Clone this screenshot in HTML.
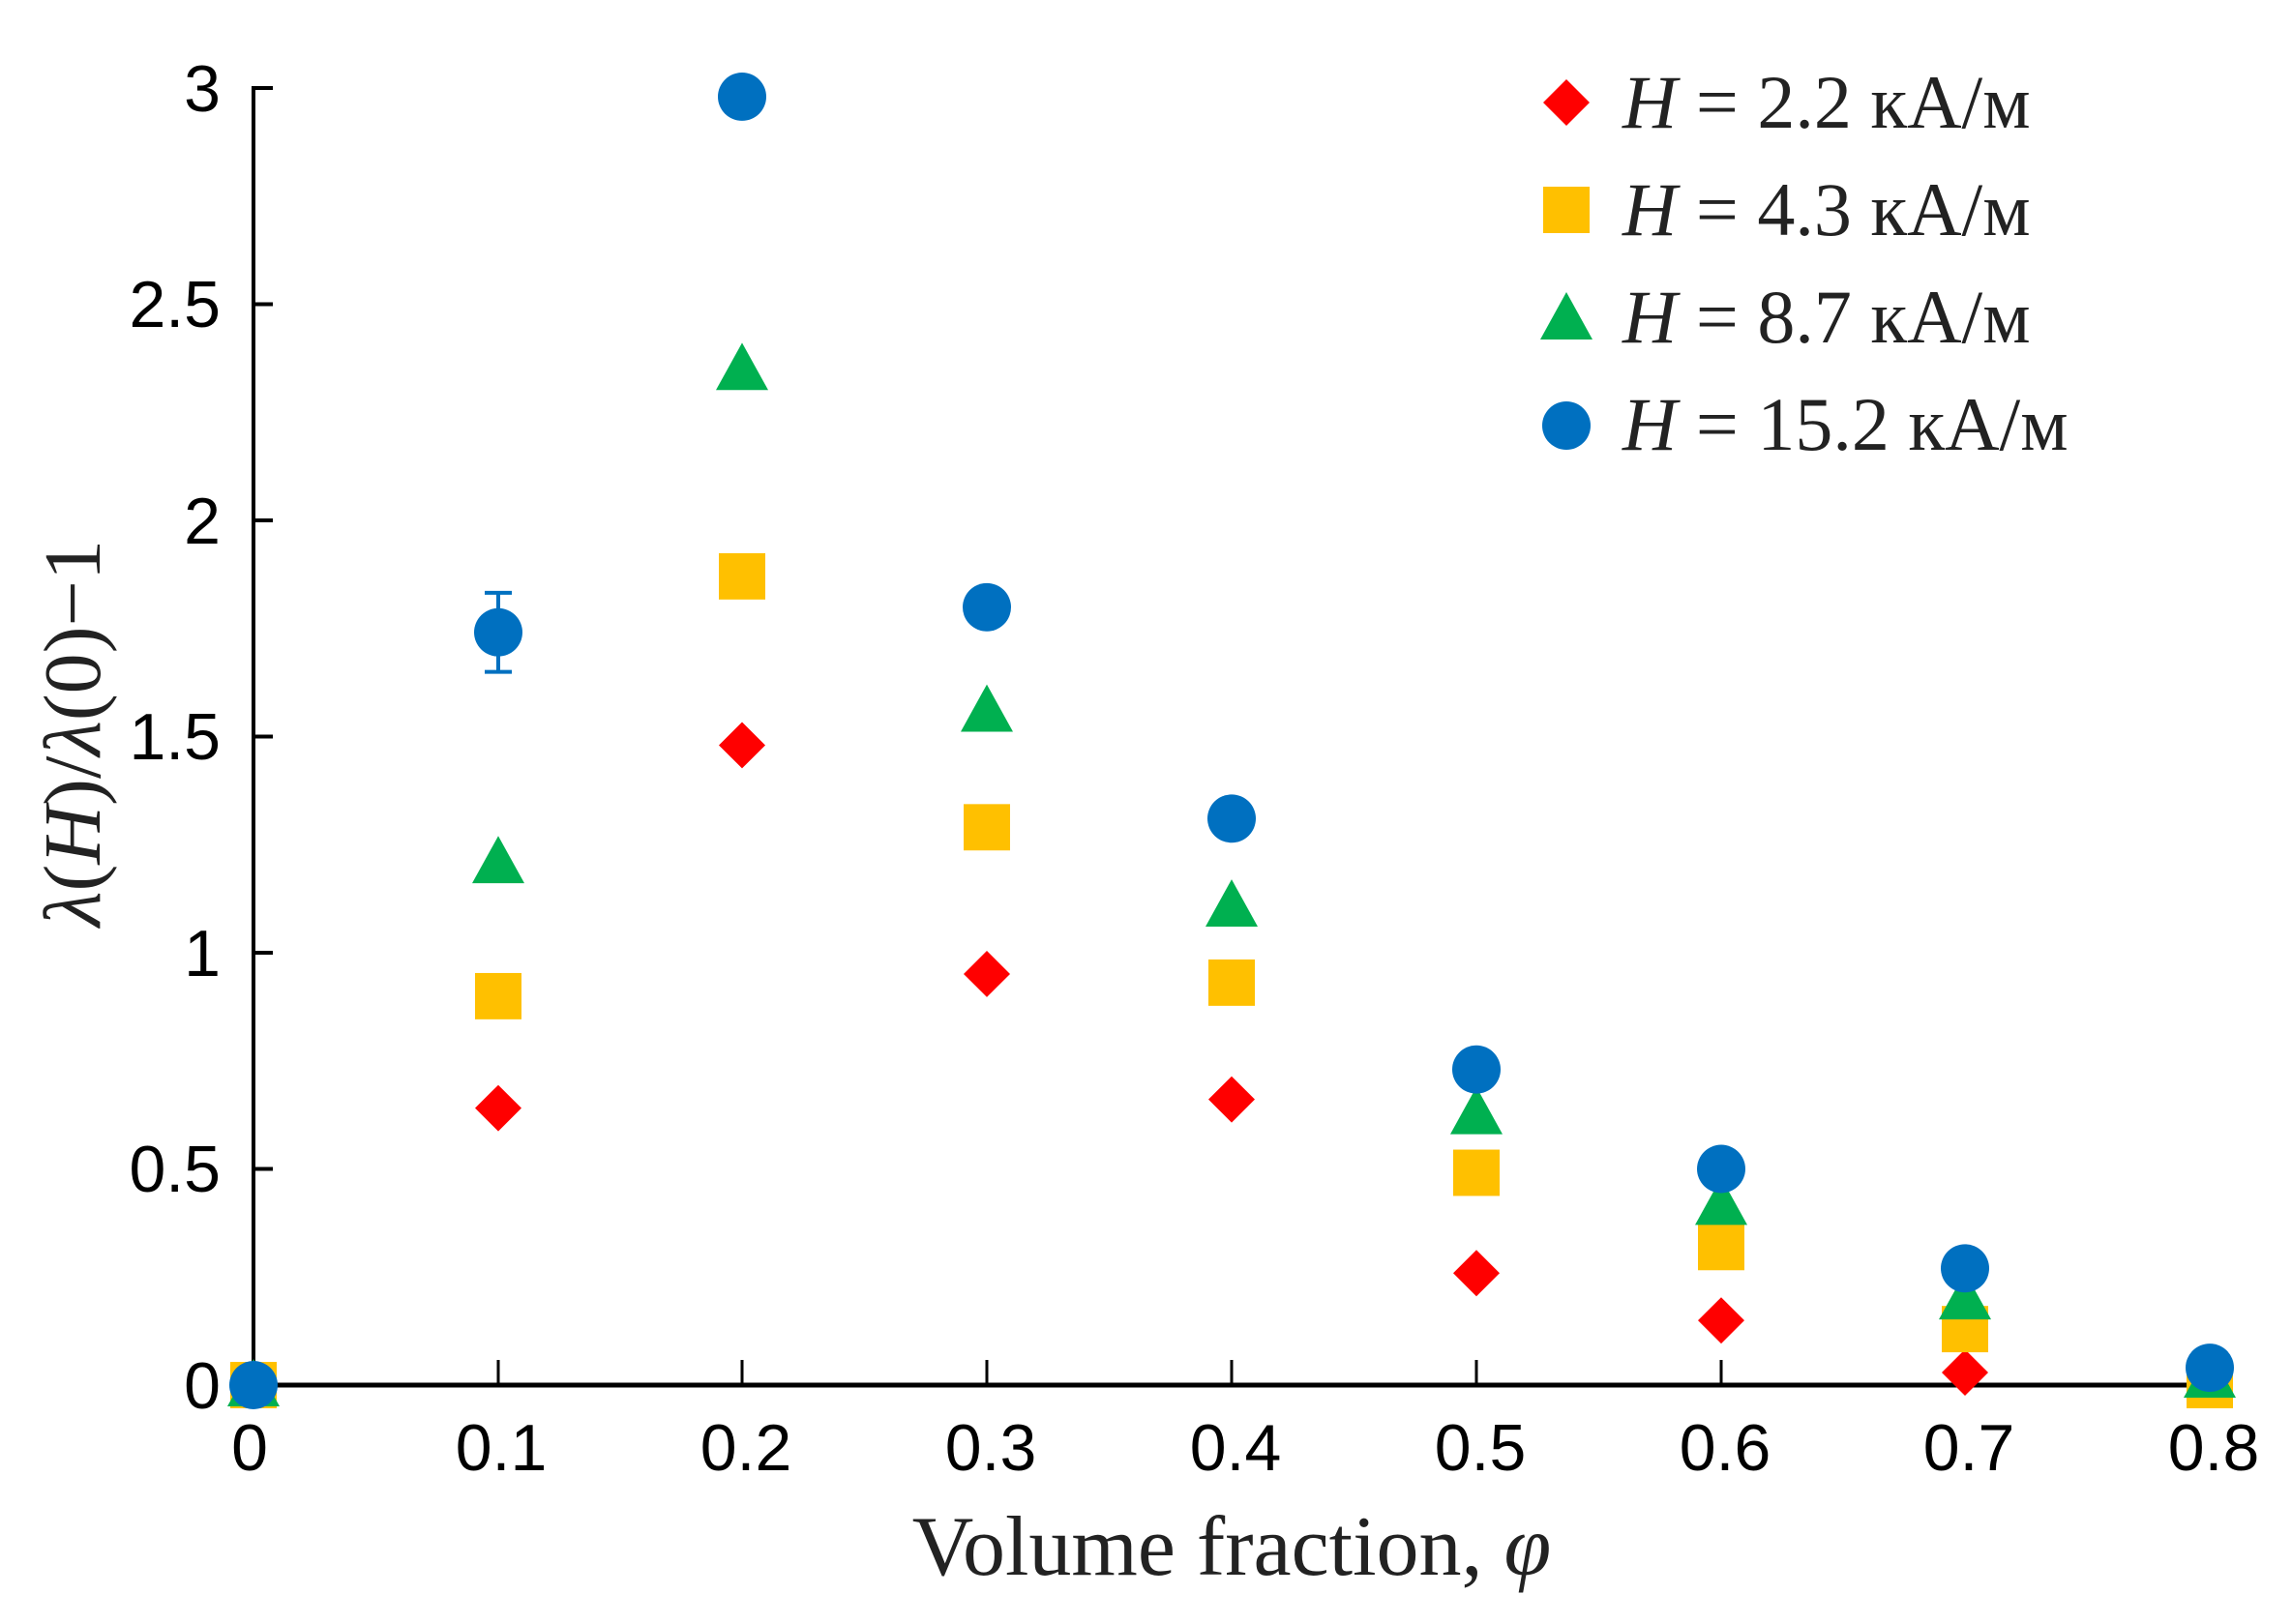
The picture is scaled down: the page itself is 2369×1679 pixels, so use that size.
<!DOCTYPE html>
<html><head><meta charset="utf-8"><style>
html,body{margin:0;padding:0;background:#fff;}
svg{display:block;}
</style></head><body>
<svg width="2369" height="1679" viewBox="0 0 2369 1679" xmlns="http://www.w3.org/2000/svg">
<defs>
<g id="dia"><polygon points="0,-24 24,0 0,24 -24,0" fill="#ff0000"/></g>
<g id="sq"><rect x="-24" y="-24" width="48" height="48" fill="#ffc000"/></g>
<g id="tri"><polygon points="0,-27 27,22 -27,22" fill="#00b050"/></g>
<g id="cir"><circle cx="0" cy="0" r="25" fill="#0070c0"/></g>
</defs>
<!-- axes -->
<line x1="262" y1="89" x2="262" y2="1434" stroke="#000" stroke-width="4"/>
<line x1="260" y1="1432" x2="2286" y2="1432" stroke="#000" stroke-width="5"/>
<g stroke="#000" stroke-width="4">
<line x1="262" y1="91" x2="282" y2="91"/>
<line x1="262" y1="314.5" x2="282" y2="314.5"/>
<line x1="262" y1="538" x2="282" y2="538"/>
<line x1="262" y1="761.5" x2="282" y2="761.5"/>
<line x1="262" y1="985" x2="282" y2="985"/>
<line x1="262" y1="1208.5" x2="282" y2="1208.5"/>
</g>
<g stroke="#000" stroke-width="3">
<line x1="515" y1="1432" x2="515" y2="1406"/>
<line x1="767" y1="1432" x2="767" y2="1406"/>
<line x1="1020" y1="1432" x2="1020" y2="1406"/>
<line x1="1273" y1="1432" x2="1273" y2="1406"/>
<line x1="1526" y1="1432" x2="1526" y2="1406"/>
<line x1="1779" y1="1432" x2="1779" y2="1406"/>
<line x1="2031" y1="1432" x2="2031" y2="1406"/>
<line x1="2284" y1="1432" x2="2284" y2="1406"/>
</g>
<g font-family="Liberation Sans, sans-serif" font-size="68" fill="#000" text-anchor="end">
<text x="228" y="115">3</text>
<text x="228" y="338">2.5</text>
<text x="228" y="562">2</text>
<text x="228" y="785">1.5</text>
<text x="228" y="1009">1</text>
<text x="228" y="1232">0.5</text>
<text x="228" y="1456">0</text>
</g>
<g font-family="Liberation Sans, sans-serif" font-size="68" fill="#000" text-anchor="middle">
<text x="258" y="1520">0</text>
<text x="518" y="1520">0.1</text>
<text x="771" y="1520">0.2</text>
<text x="1024" y="1520">0.3</text>
<text x="1277" y="1520">0.4</text>
<text x="1530" y="1520">0.5</text>
<text x="1783" y="1520">0.6</text>
<text x="2035" y="1520">0.7</text>
<text x="2288" y="1520">0.8</text>
</g>
<text x="1273" y="1628" font-family="Liberation Serif, serif" font-size="88" fill="#222" text-anchor="middle">Volume fraction, <tspan font-style="italic">φ</tspan></text>
<text transform="translate(103,758) rotate(-90)" font-family="Liberation Serif, serif" font-size="84" fill="#222" text-anchor="middle"><tspan font-style="italic">λ</tspan>(<tspan font-style="italic">H</tspan>)/<tspan font-style="italic">λ</tspan>(0)−1</text>
<g transform="translate(0,0.2) scale(1,0.99777)">
<!-- error bar -->
<g stroke="#0070c0" stroke-width="4">
<line x1="515" y1="614" x2="515" y2="696"/>
<line x1="501" y1="614" x2="529" y2="614"/>
<line x1="501" y1="696" x2="529" y2="696"/>
</g>
<use href="#dia" x="262" y="1435"/>
<use href="#dia" x="515" y="1148"/>
<use href="#dia" x="767" y="772"/>
<use href="#dia" x="1020" y="1009"/>
<use href="#dia" x="1273" y="1139"/>
<use href="#dia" x="1526" y="1319"/>
<use href="#dia" x="1779" y="1368"/>
<use href="#dia" x="2031" y="1422"/>
<use href="#sq" x="262" y="1435"/>
<use href="#sq" x="515" y="1032"/>
<use href="#sq" x="767" y="597"/>
<use href="#sq" x="1020" y="857"/>
<use href="#sq" x="1273" y="1018"/>
<use href="#sq" x="1526" y="1215"/>
<use href="#sq" x="1779" y="1292"/>
<use href="#sq" x="2031" y="1377"/>
<use href="#sq" x="2284" y="1435"/>
<use href="#tri" x="262" y="1435"/>
<use href="#tri" x="515" y="893"/>
<use href="#tri" x="767" y="382"/>
<use href="#tri" x="1020" y="736"/>
<use href="#tri" x="1273" y="938"/>
<use href="#tri" x="1526" y="1153"/>
<use href="#tri" x="1779" y="1247"/>
<use href="#tri" x="2031" y="1345"/>
<use href="#tri" x="2284" y="1426"/>
<use href="#cir" x="262" y="1435"/>
<use href="#cir" x="515" y="655"/>
<use href="#cir" x="767" y="100"/>
<use href="#cir" x="1020" y="629"/>
<use href="#cir" x="1273" y="848"/>
<use href="#cir" x="1526" y="1108"/>
<use href="#cir" x="1779" y="1211"/>
<use href="#cir" x="2031" y="1314"/>
<use href="#cir" x="2284" y="1417"/>
</g>
<!-- legend -->
<use href="#dia" x="1619" y="106"/>
<use href="#sq" x="1619" y="217"/>
<use href="#tri" x="1619" y="329"/>
<use href="#cir" x="1619" y="440"/>
<g font-family="Liberation Serif, serif" font-size="78" fill="#222">
<text x="1677" y="132"><tspan font-style="italic">H</tspan> = 2.2 кА/м</text>
<text x="1677" y="243"><tspan font-style="italic">H</tspan> = 4.3 кА/м</text>
<text x="1677" y="354"><tspan font-style="italic">H</tspan> = 8.7 кА/м</text>
<text x="1677" y="465"><tspan font-style="italic">H</tspan> = 15.2 кА/м</text>
</g>
</svg>
</body></html>
